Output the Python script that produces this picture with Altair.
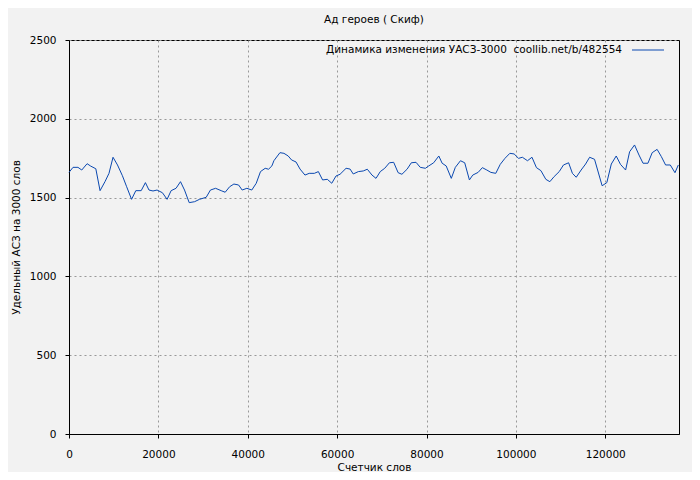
import altair as alt
import pandas as pd

words = [0, 900, 2000, 2850, 4050, 4850, 6000, 6950, 8050, 8950, 9850, 10850, 11950, 12900,
         14000, 14950, 16150, 17100, 17900, 18800, 19700, 20900, 21950, 22850, 23950, 24950,
         25850, 26900, 28100, 29200, 30700, 31650, 32800, 34050, 34950, 35950, 36900, 37950,
         38750, 39800, 40900, 41900, 42850, 43900, 44650, 45400, 45850, 47200, 48100, 49050,
         49800, 50800, 51700, 52800, 53750, 54900, 55800, 56750, 57800, 58800, 59750, 60650,
         62000, 62900, 63600, 64750, 65850, 66750, 67800, 68700, 69650, 70650, 71700, 72650,
         73650, 74500, 75650, 76600, 77650, 78600, 79750, 80500, 81600, 82750, 83500, 84400,
         85550, 86450, 87600, 88550, 89600, 90350, 91550, 92500, 93500, 94400, 95500, 96500,
         97550, 98650, 99600, 100600, 101450, 102600, 103600, 104600, 105600, 106700, 107600,
         108550, 109700, 110650, 111800, 112650, 113500, 114600, 115600, 116500, 117600,
         119300, 120350, 121350, 122450, 123400, 124550, 125450, 126550, 127550, 128450,
         129550, 130500, 131600, 132550, 133500, 134550, 135600, 136350]
uasz = [1660, 1692, 1692, 1675, 1715, 1700, 1683, 1544, 1601, 1654, 1756, 1707, 1639, 1569,
        1489, 1544, 1544, 1595, 1548, 1542, 1548, 1531, 1489, 1544, 1559, 1601,
        1548, 1468, 1474, 1489, 1502, 1548, 1559, 1544, 1534, 1569, 1586, 1580,
        1548, 1559, 1548, 1591, 1665, 1686, 1680, 1701, 1734, 1785, 1781, 1764,
        1739, 1726, 1681, 1643, 1654, 1654, 1665, 1612, 1616, 1591, 1637, 1648,
        1686, 1681, 1650, 1665, 1669, 1680, 1643, 1622, 1665, 1686, 1721, 1724,
        1658, 1648, 1680, 1721, 1724, 1692, 1686, 1701, 1721, 1764, 1718, 1701,
        1622, 1692, 1734, 1721, 1612, 1643, 1660, 1690, 1675, 1660, 1654, 1711,
        1749, 1781, 1777, 1749, 1756, 1734, 1756, 1690, 1671, 1616, 1601,
        1633, 1665, 1707, 1721, 1654, 1629, 1675, 1713, 1756, 1743,
        1575, 1595, 1713, 1764, 1711, 1675, 1791, 1834, 1770, 1718,
        1718, 1785, 1806, 1760, 1707, 1707, 1658, 1707]

x_ticks = [0, 20000, 40000, 60000, 80000, 100000, 120000]
y_ticks = [0, 500, 1000, 1500, 2000, 2500]
title_text = "Ад героев ( Скиф)"
legend_text = "Динамика изменения УАСЗ-3000\u00a0\u00a0coollib.net/b/482554"
x_title = "Счетчик слов"
y_title = "Удельный АСЗ на 3000 слов"

df = pd.DataFrame({"words": words, "uasz": uasz})
FONT = "DejaVu Sans"
BLUE = "#0a48b0"

line = alt.Chart(df).mark_line(color=BLUE, strokeWidth=1, interpolate="linear").encode(
    x=alt.X("words:Q", scale=alt.Scale(domain=[0, 136500], nice=False, zero=False),
            axis=alt.Axis(values=x_ticks, title=x_title, format="d")),
    y=alt.Y("uasz:Q", scale=alt.Scale(domain=[0, 2500], nice=False),
            axis=alt.Axis(values=y_ticks, title=y_title, format="d")),
)

leg_df = pd.DataFrame({"t": [legend_text]})
leg_text = alt.Chart(leg_df).mark_text(align="right", baseline="middle", font=FONT,
                                        fontSize=10.5, color="#000").encode(
    x=alt.value(553), y=alt.value(10), text="t:N")
leg_line = alt.Chart(leg_df).mark_rule(color=BLUE, strokeWidth=1).encode(
    x=alt.value(563), x2=alt.value(595), y=alt.value(10))

chart = alt.layer(line, leg_text, leg_line).properties(
    width=610, height=394,
    title=alt.TitleParams(title_text, font=FONT, fontSize=10.5, fontWeight="normal",
                          color="#000", anchor="middle", offset=10),
    background="#f2f2f2",
    padding={"left": 61, "top": 32, "right": 13, "bottom": 38},
    autosize=alt.AutoSizeParams(type="none"),
).configure_view(stroke="#000", strokeWidth=1).configure_axis(
    labelFont=FONT, titleFont=FONT, labelFontSize=10.5, titleFontSize=10.5,
    titleFontWeight="normal", labelColor="#000", titleColor="#000",
    domainColor="#000", tickColor="#000", tickSize=4, labelFlush=False,
    gridColor="#999999", gridDash=[2, 3], gridOpacity=1, gridWidth=1,
).configure_axisX(labelPadding=11, titlePadding=3).configure_axisY(
    labelPadding=9, titlePadding=8)

chart.save("out.html", embed_options={"renderer": "svg", "actions": False})
